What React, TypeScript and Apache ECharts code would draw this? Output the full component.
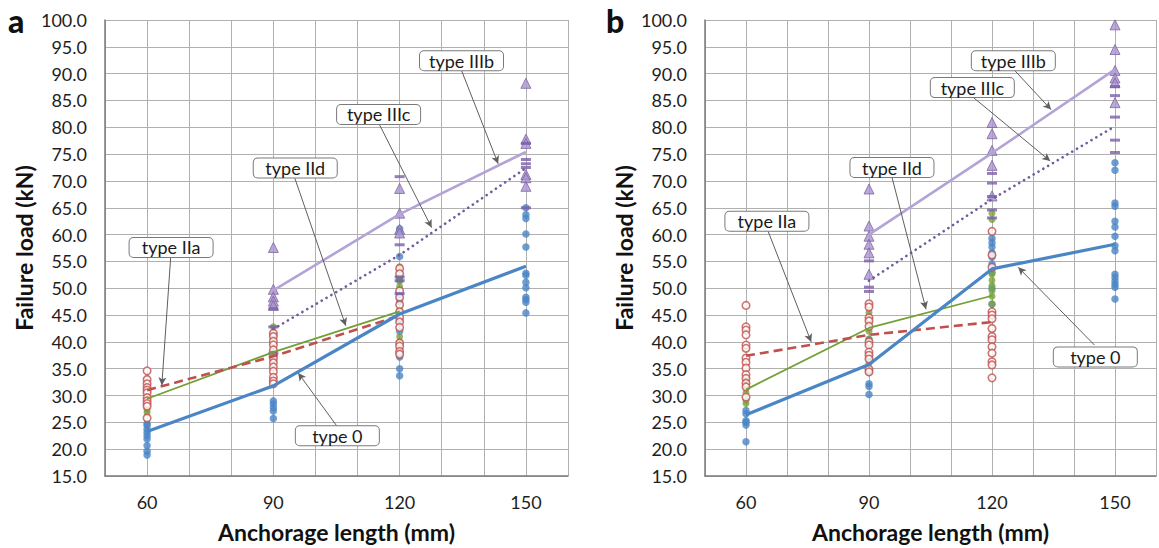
import React, { useEffect, useRef } from "react";
import * as echarts from "echarts";

// ---------- data ----------
const xCats = [60, 90, 120, 150];
const xTickLabels = [60, 90, 120, 150];

// Panel a – individual results per anchorage length (aligned with xCats)
const aType0 = [
  [24.8, 24.4, 23.7, 23.1, 22.5, 21.9, 20.7, 19.6, 18.9],
  [41.2, 37.5, 29.0, 28.4, 27.7, 27.1, 25.7],
  [61.1, 60.6, 55.9, 52.0, 51.4, 48.8, 47.5, 44.0, 42.0, 37.2, 35.0, 33.7],
  [65.0, 63.7, 63.0, 60.1, 57.7, 52.8, 52.4, 51.1, 50.1, 48.3, 47.9, 47.4, 45.4],
];
const aTypeIIa = [
  [34.6, 33.0, 32.2, 31.5, 31.0, 30.5, 29.6, 29.0, 28.5, 28.0, 25.8],
  [41.6, 41.0, 40.1, 39.4, 38.5, 37.5, 36.9, 36.1, 35.3, 34.5, 33.4, 32.7, 32.2],
  [53.7, 52.7, 49.5, 48.3, 46.9, 45.6, 44.6, 43.7, 42.7, 39.8, 39.2, 38.2, 37.7],
  [],
];
const aTypeIId = [
  [29.5, 28.0, 27.3, 26.8],
  [42.8, 38.5, 37.8, 36.5],
  [54.0, 51.5, 50.3, 46.0, 41.0, 40.0],
  [],
];
const aTypeIIIb = [
  [],
  [57.6, 49.8, 48.4, 47.6, 46.8],
  [68.6, 64.0, 61.0, 60.3],
  [88.2, 77.8, 77.0, 71.2, 70.6, 69.0],
];
const aTypeIIIc = [
  [],
  [46.2, 42.8, 37.9],
  [70.8, 58.1, 52.1, 51.4, 49.0],
  [77.0, 74.0, 73.2, 72.5, 65.0],
];
// Panel a – mean lines
const aMean0 = [23.3, 31.8, 45.2, 54.1];
const aMeanIIa = [31.0, 37.3, 44.9, null];
const aMeanIId = [29.4, 38.1, 45.7, null];
const aMeanIIIb = [null, 49.6, 63.8, 75.4];
const aMeanIIIc = [null, 42.4, 56.2, 72.4];

// Panel b – individual results
const bType0 = [
  [27.2, 26.6, 25.3, 25.0, 24.5, 21.4],
  [40.5, 36.8, 34.3, 32.2, 31.7, 30.2],
  [59.3, 58.5, 57.7, 56.6, 55.8, 54.5, 53.0, 50.0, 47.0],
  [73.4, 72.0, 65.9, 65.3, 62.5, 61.4, 59.7, 57.9, 57.0, 52.6, 52.0, 51.3, 50.7, 50.2, 48.0],
];
const bTypeIIa = [
  [46.8, 42.8, 42.2, 41.3, 39.4, 38.8, 37.0, 36.2, 35.1, 33.9, 33.2, 32.3, 31.6, 29.7],
  [47.1, 46.5, 44.5, 43.9, 42.9, 40.0, 39.4, 38.1, 37.5, 36.8, 34.9, 34.4],
  [60.6, 56.2, 53.9, 45.6, 45.0, 44.3, 42.5, 41.0, 40.4, 39.1, 37.9, 36.3, 35.7, 33.3],
  [],
];
const bTypeIId = [
  [33.0, 31.5, 30.5, 29.1, 28.5],
  [45.5, 43.5, 42.0, 40.5, 36.0],
  [64.0, 62.8, 52.6, 51.5, 50.5, 49.5, 48.5, 47.1],
  [],
];
const bTypeIIIb = [
  [],
  [68.5, 61.6, 59.7, 58.2, 56.6, 52.6],
  [80.9, 78.8, 75.7, 72.9, 67.2],
  [99.1, 94.5, 90.6, 89.2, 88.3, 84.6],
];
const bTypeIIIc = [
  [],
  [55.1, 50.2, 49.4],
  [71.4, 69.6, 67.1, 64.6, 63.1],
  [87.6, 85.9, 81.9, 77.6, 75.3],
];
// Panel b – mean lines
const bMean0 = [26.4, 35.8, 53.6, 58.2];
const bMeanIIa = [37.4, 41.3, 43.7, null];
const bMeanIId = [31.1, 42.6, 48.6, null];
const bMeanIIIb = [null, 60.0, 75.2, 90.8];
const bMeanIIIc = [null, 51.4, 66.6, 80.2];

// Annotation labels
const noteLabels = ["type IIIb", "type IIIc", "type IId", "type IIa", "type 0"];

// ---------- layout (annotation placement in axis units) ----------
const aNoteLayout = [
  { box: [134.7, 92.4], from: [134.7, 90.6], to: [143.4, 73.2] },
  { box: [115.0, 82.4], from: [115.2, 80.5], to: [127.6, 61.3] },
  { box: [95.2, 72.4], from: [95.1, 70.5], to: [107.2, 43.0] },
  { box: [65.7, 57.6], from: [65.6, 55.7], to: [63.5, 31.9] },
  { box: [105.2, 22.5], from: [105.0, 24.4], to: [95.9, 34.2] },
];
const bNoteLayout = [
  { box: [125.2, 92.4], from: [125.4, 90.7], to: [134.4, 83.3] },
  { box: [115.2, 87.4], from: [115.4, 85.6], to: [134.2, 73.7] },
  { box: [95.6, 72.5], from: [95.6, 70.7], to: [103.9, 46.1] },
  { box: [65.1, 62.5], from: [65.4, 60.6], to: [75.9, 40.0] },
  { box: [145.2, 37.2], from: [145.0, 39.4], to: [126.4, 53.9] },
];

const FONT = 'Lato, "Liberation Sans", sans-serif';

function pts(groups: number[][]) {
  return xCats.flatMap((x, i) => groups[i].map((v) => [x, v]));
}
function meanPts(means: (number | null)[]) {
  return xCats
    .map((x, i) => (means[i] == null ? null : [x, means[i]]))
    .filter((d) => d !== null);
}

function panelSeries(
  gi: number,
  t0: number[][],
  tIIa: number[][],
  tIId: number[][],
  tIIIb: number[][],
  tIIIc: number[][],
  m0: (number | null)[],
  mIIa: (number | null)[],
  mIId: (number | null)[],
  mIIIb: (number | null)[],
  mIIIc: (number | null)[],
  layout: { box: number[]; from: number[]; to: number[] }[]
) {
  const base = { xAxisIndex: gi, yAxisIndex: gi, silent: true };
  return [
    {
      ...base,
      type: "scatter",
      name: "type 0",
      data: pts(t0),
      symbol: "circle",
      symbolSize: 7.5,
      itemStyle: { color: "#4a86c6" },
      z: 2,
    },
    {
      ...base,
      type: "scatter",
      name: "type IId",
      data: pts(tIId),
      symbol: "circle",
      symbolSize: 7,
      itemStyle: { color: "#78a33c" },
      z: 2,
    },
    {
      ...base,
      type: "scatter",
      name: "type IIa",
      data: pts(tIIa),
      symbol: "circle",
      symbolSize: 7.5,
      itemStyle: { color: "#ffffff", borderColor: "#c0504d", borderWidth: 1.6 },
      z: 3,
    },
    {
      ...base,
      type: "scatter",
      name: "type IIIb",
      data: pts(tIIIb),
      symbol: "triangle",
      symbolSize: 10,
      itemStyle: { color: "#a993cf", borderColor: "#8064a2", borderWidth: 1 },
      z: 3,
    },
    {
      ...base,
      type: "scatter",
      name: "type IIIc",
      data: pts(tIIIc),
      symbol: "rect",
      symbolSize: [10, 3],
      itemStyle: { color: "#7b5ea7" },
      z: 3,
    },
    {
      ...base,
      type: "line",
      name: "mean type IIIb",
      data: meanPts(mIIIb),
      symbol: "none",
      lineStyle: { color: "#b3a3d6", width: 2.6 },
      z: 4,
    },
    {
      ...base,
      type: "line",
      name: "mean type IIIc",
      data: meanPts(mIIIc),
      symbol: "none",
      lineStyle: { color: "#6f5b9e", width: 2.6, type: [0.1, 5.5], cap: "round" },
      z: 4,
    },
    {
      ...base,
      type: "line",
      name: "mean type IId",
      data: meanPts(mIId),
      symbol: "none",
      lineStyle: { color: "#72a034", width: 1.8 },
      z: 4,
    },
    {
      ...base,
      type: "line",
      name: "mean type IIa",
      data: meanPts(mIIa),
      symbol: "none",
      lineStyle: { color: "#c0504d", width: 2.6, type: [9, 5] },
      z: 4,
    },
    {
      ...base,
      type: "line",
      name: "mean type 0",
      data: meanPts(m0),
      symbol: "none",
      lineStyle: { color: "#4a86c6", width: 3.2 },
      z: 5,
    },
    {
      ...base,
      type: "line",
      name: "annotations",
      data: [],
      z: 10,
      markLine: {
        silent: true,
        symbol: ["none", "arrow"],
        symbolSize: [6, 8],
        label: { show: false },
        lineStyle: { color: "#5f5f5f", width: 1, type: "solid" },
        data: layout.map((n) => [{ coord: n.from }, { coord: n.to }]),
      },
      markPoint: {
        silent: true,
        symbol: "rect",
        symbolSize: 1,
        itemStyle: { color: "rgba(0,0,0,0)" },
        label: {
          show: true,
          position: "inside",
          formatter: "{b}",
          color: "#1a1a1a",
          fontSize: 18,
          fontFamily: FONT,
          backgroundColor: "#ffffff",
          borderColor: "#7a7a7a",
          borderWidth: 1,
          borderRadius: 4,
          width: 71,
          height: 16,
          lineHeight: 16,
          align: "center",
          verticalAlign: "middle",
          padding: [2, 6, 1, 6],
        },
        data: layout.map((n, i) => ({ name: noteLabels[i], coord: n.box })),
      },
    },
  ];
}

function xAxis(gi: number) {
  return {
    type: "value",
    gridIndex: gi,
    min: 50,
    max: 160,
    interval: 10,
    axisLine: { show: true, onZero: false, lineStyle: { color: "#7a7a7a", width: 1.5 } },
    axisTick: { show: false },
    splitLine: { show: true, lineStyle: { color: "#b0b0b0", width: 1 } },
    axisLabel: {
      formatter: (v: number) => (xTickLabels.includes(v) ? String(v) : ""),
      fontSize: 18,
      color: "#1e1e1e",
      margin: 17,
      fontFamily: FONT,
    },
    name: "Anchorage length (mm)",
    nameLocation: "middle",
    nameGap: 44,
    nameTextStyle: { fontSize: 23, fontWeight: "bold", color: "#111", fontFamily: FONT },
  };
}
function yAxis(gi: number) {
  return {
    type: "value",
    gridIndex: gi,
    min: 15,
    max: 100,
    interval: 5,
    axisLine: { show: true, onZero: false, lineStyle: { color: "#7a7a7a", width: 1.5 } },
    axisTick: { show: false },
    splitLine: { show: true, lineStyle: { color: "#b0b0b0", width: 1 } },
    axisLabel: {
      formatter: (v: number) => v.toFixed(1),
      fontSize: 18,
      color: "#1e1e1e",
      margin: 18,
      fontFamily: FONT,
    },
    name: "Failure load (kN)",
    nameLocation: "middle",
    nameGap: 70,
    nameTextStyle: { fontSize: 23, fontWeight: "bold", color: "#111", fontFamily: FONT },
  };
}

export default function App() {
  const ref = useRef<HTMLDivElement>(null);
  useEffect(() => {
    if (!ref.current) return;
    const chart = echarts.init(ref.current, undefined, { renderer: "svg" });
    chart.setOption({
      animation: false,
      backgroundColor: "#ffffff",
      grid: [
        { left: 105, top: 20, width: 463, height: 461 },
        { left: 705, top: 20, width: 459, height: 462 },
      ],
      xAxis: [xAxis(0), xAxis(1)],
      yAxis: [yAxis(0), yAxis(1)],
      graphic: [
        {
          type: "text",
          left: 8,
          top: 4,
          style: { text: "a", font: `900 32px ${FONT}`, fill: "#111" },
        },
        {
          type: "text",
          left: 606,
          top: 4,
          style: { text: "b", font: `900 32px ${FONT}`, fill: "#111" },
        },
      ],
      series: [
        ...panelSeries(0, aType0, aTypeIIa, aTypeIId, aTypeIIIb, aTypeIIIc,
          aMean0, aMeanIIa, aMeanIId, aMeanIIIb, aMeanIIIc, aNoteLayout),
        ...panelSeries(1, bType0, bTypeIIa, bTypeIId, bTypeIIIb, bTypeIIIc,
          bMean0, bMeanIIa, bMeanIId, bMeanIIIb, bMeanIIIc, bNoteLayout),
      ],
    });
    return () => chart.dispose();
  }, []);
  return (
    <div
      ref={ref}
      style={{ position: "fixed", left: 0, top: 0, width: 1159, height: 548, background: "#fff" }}
    />
  );
}
